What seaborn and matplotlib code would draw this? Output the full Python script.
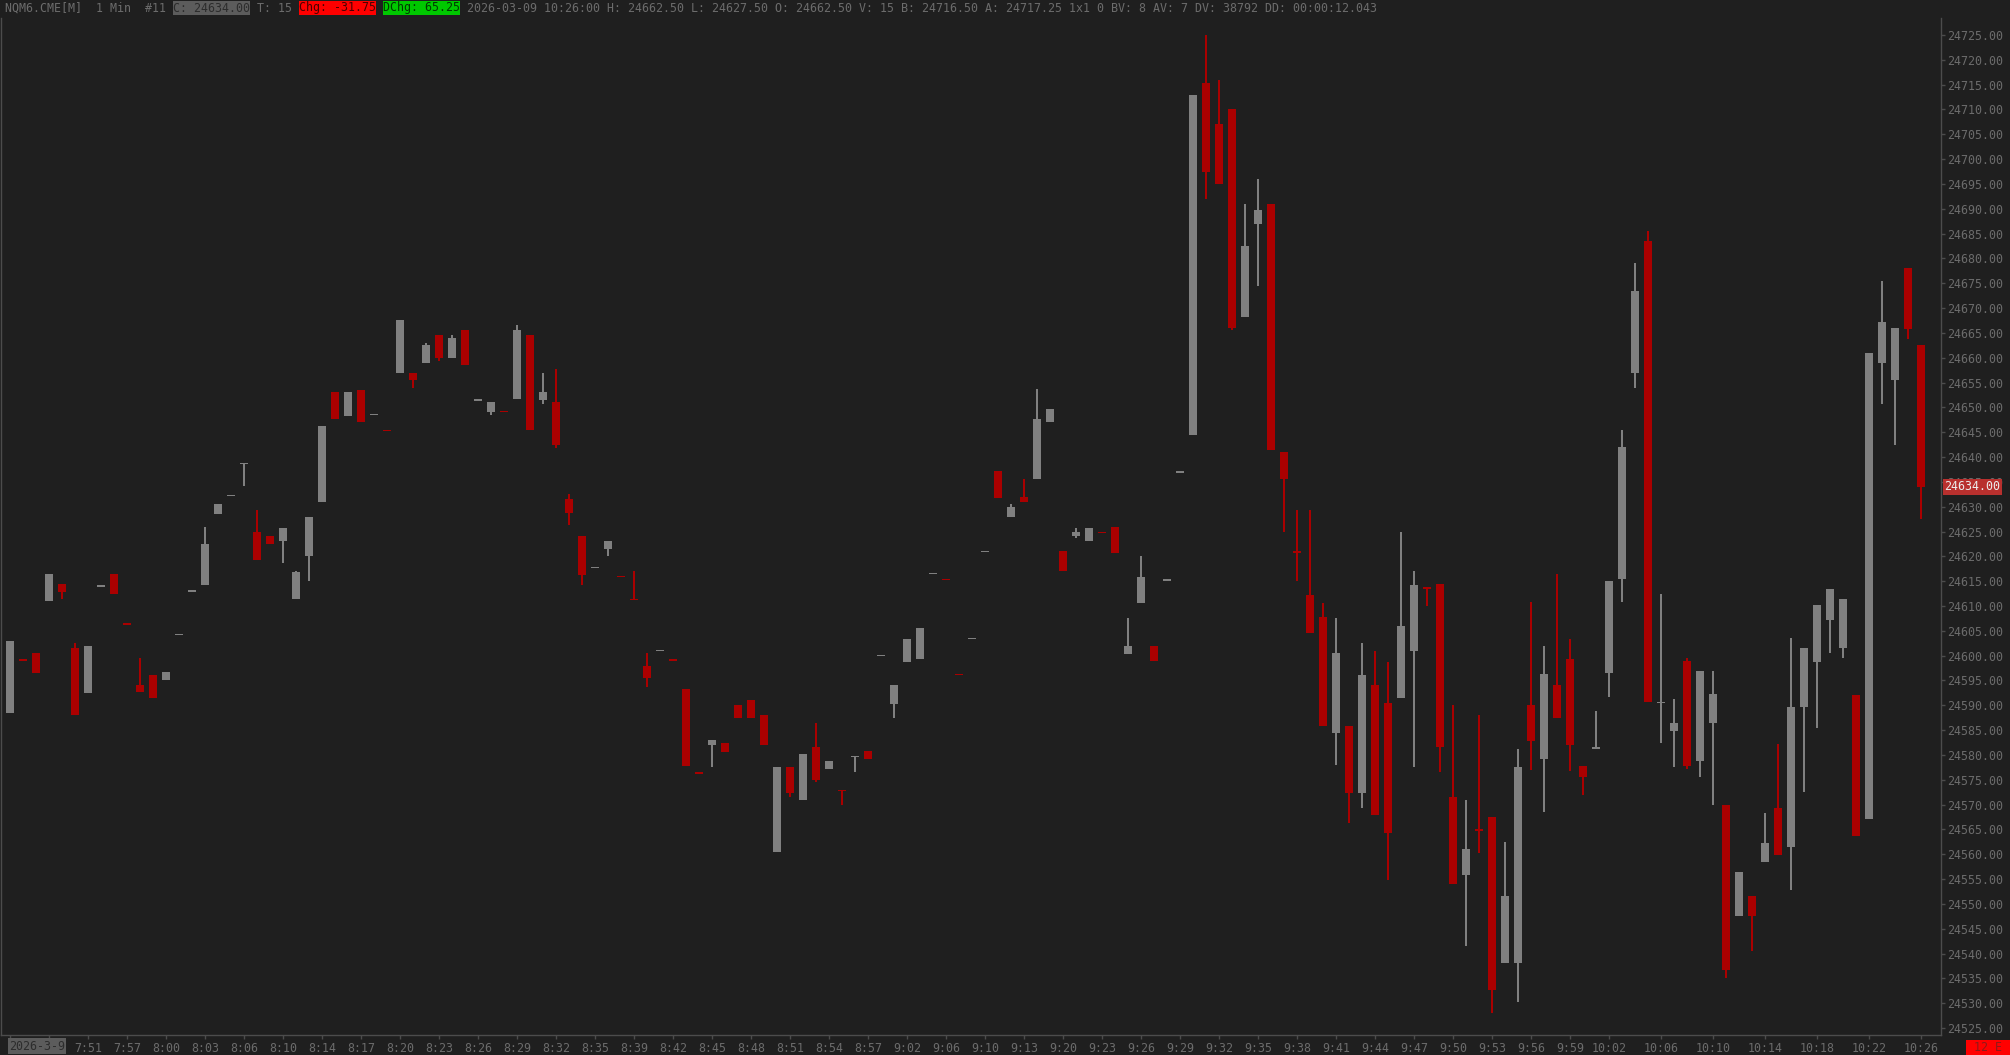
import numpy as np
import pandas as pd
import matplotlib
matplotlib.use("Agg")
import matplotlib.pyplot as plt
import matplotlib.transforms as mtransforms
from matplotlib.patches import Rectangle
import seaborn as sns

# 1 min candles NQM6.CME, 148 bars
opens = [24588.5, 24599.25, 24600.5, 24611, 24614.5, 24601.5, 24592.5, 24614, 24616.5, 24606.5,
         24594, 24596, 24595, 24604.25, 24613, 24614.25, 24628.5, 24632.25, 24638.75, 24625,
         24624, 24623, 24611.5, 24620, 24631, 24653, 24648.25, 24653.5, 24648.5, 24645.5,
         24657, 24657, 24659, 24664.5, 24660, 24665.5, 24651.25, 24649, 24649.25, 24651.75,
         24664.5, 24651.5, 24651, 24631.5, 24624, 24617.75, 24621.5, 24616, 24611.5, 24598,
         24601, 24599.25, 24593.25, 24576.5, 24582, 24582.5, 24590, 24591, 24588, 24560.5,
         24577.5, 24571, 24581.5, 24577.25, 24573, 24579.5, 24580.75, 24600, 24590.25, 24598.75,
         24599.25, 24616.5, 24615.5, 24596.25, 24603.5, 24621, 24637.25, 24628, 24632, 24635.5,
         24647, 24621, 24624, 24623, 24625, 24626, 24600.25, 24610.5, 24602, 24615.25,
         24637, 24644.5, 24715.25, 24707, 24710, 24668.25, 24687, 24691, 24641, 24621,
         24612.25, 24607.75, 24584.5, 24585.75, 24572.25, 24594, 24590.5, 24591.5, 24601, 24613.75,
         24614.5, 24571.5, 24555.75, 24565, 24567.5, 24538, 24538, 24590, 24579.25, 24594,
         24599.25, 24577.75, 24581.25, 24596.5, 24615.5, 24657, 24683.5, 24590.5, 24584.75, 24599,
         24578.75, 24586.5, 24570, 24547.5, 24551.5, 24558.5, 24569.25, 24561.5, 24589.75, 24598.75,
         24607.25, 24601.5, 24592, 24567, 24659, 24655.5, 24678, 24662.5]
highs = [24603, 24599.25, 24600.5, 24616.5, 24614.5, 24602.5, 24602, 24614, 24616.5, 24606.5,
         24599.5, 24596, 24596.75, 24604.25, 24613, 24626, 24630.5, 24632.25, 24638.75, 24629.25,
         24624, 24625.75, 24617, 24628, 24646.25, 24653, 24653, 24653.5, 24648.5, 24645.5,
         24667.5, 24657, 24663, 24664.5, 24664.5, 24665.5, 24651.75, 24651, 24649.25, 24666.5,
         24664.5, 24657, 24657.75, 24632.5, 24624, 24617.75, 24623, 24616, 24617, 24600.5,
         24601, 24599.25, 24593.25, 24576.5, 24583, 24582.5, 24590, 24591, 24588, 24577.5,
         24577.5, 24580.25, 24586.5, 24578.75, 24573, 24579.75, 24580.75, 24600, 24594, 24603.25,
         24605.5, 24616.5, 24615.5, 24596.25, 24603.5, 24621, 24637.25, 24630.5, 24635.5, 24653.75,
         24649.75, 24621, 24625.75, 24625.75, 24625, 24626, 24607.5, 24620, 24602, 24615.25,
         24637, 24713, 24725, 24716, 24710, 24691, 24696, 24691, 24641, 24629.25,
         24629.25, 24610.5, 24607.5, 24585.75, 24602.5, 24601, 24598.75, 24625, 24617, 24613.75,
         24614.5, 24590, 24571, 24588, 24567.5, 24562.5, 24581.25, 24610.75, 24602, 24616.5,
         24603.25, 24577.75, 24588.75, 24615, 24645.5, 24679, 24685.5, 24612.5, 24591.25, 24599.5,
         24597, 24597, 24570, 24556.5, 24551.5, 24568.25, 24582.25, 24603.5, 24601.5, 24610.25,
         24613.5, 24611.5, 24592, 24661, 24675.5, 24666, 24678, 24662.5]
lows = [24588.5, 24599, 24596.5, 24611, 24611.5, 24588, 24592.5, 24614, 24612.5, 24606.25,
        24592.75, 24591.5, 24595, 24604.25, 24613, 24614.25, 24628.5, 24632.25, 24634.25, 24619.25,
        24622.5, 24618.75, 24611.5, 24615, 24631, 24647.75, 24648.25, 24647, 24648.5, 24645.25,
        24657, 24654, 24659, 24659.25, 24660, 24658.5, 24651.25, 24648.5, 24649, 24651.75,
        24645.5, 24650.75, 24641.75, 24626.25, 24614.25, 24617.75, 24620, 24615.75, 24611.25, 24593.75,
        24601, 24599, 24577.75, 24576.25, 24577.5, 24580.5, 24587.5, 24587.5, 24582, 24560.5,
        24571.5, 24571, 24574.5, 24577.25, 24570, 24576.5, 24579.25, 24600, 24587.5, 24598.75,
        24599.25, 24616.5, 24615.25, 24596, 24603.5, 24621, 24631.75, 24628, 24631, 24635.5,
        24647, 24617, 24623.75, 24623, 24624.75, 24620.75, 24600.25, 24610.5, 24599, 24615.25,
        24637, 24644.5, 24692, 24695, 24665.5, 24668.25, 24674.5, 24641.5, 24625, 24615,
        24604.5, 24585.75, 24578, 24566.25, 24569.25, 24568, 24554.75, 24591.5, 24577.5, 24610,
        24576.5, 24554, 24541.5, 24560.25, 24528, 24538, 24530.25, 24577, 24568.5, 24587.5,
        24576.75, 24572, 24581.25, 24591.75, 24610.75, 24654, 24590.75, 24582.5, 24577.5, 24577.25,
        24575.5, 24570, 24535, 24547.5, 24540.5, 24558.5, 24559.75, 24552.75, 24572.5, 24585.5,
        24600.5, 24599.5, 24563.75, 24567, 24650.75, 24642.5, 24663.75, 24627.5]
closes = [24603, 24599, 24596.5, 24616.5, 24612.75, 24588, 24602, 24614, 24612.5, 24606.25,
          24592.75, 24591.5, 24596.75, 24604.25, 24613, 24622.5, 24630.5, 24632.25, 24638.75, 24619.25,
          24622.5, 24625.75, 24616.75, 24628, 24646.25, 24647.75, 24653, 24647, 24648.5, 24645.25,
          24667.5, 24655.5, 24662.5, 24660, 24664, 24658.5, 24651.75, 24651, 24649, 24665.5,
          24645.5, 24653, 24642.5, 24628.75, 24616.25, 24617.75, 24623, 24615.75, 24611.25, 24595.5,
          24601, 24599, 24577.75, 24576.25, 24583, 24580.5, 24587.5, 24587.5, 24582, 24577.5,
          24572.25, 24580.25, 24575, 24578.75, 24572.75, 24579.75, 24579.25, 24600, 24594, 24603.25,
          24605.5, 24616.5, 24615.25, 24596, 24603.5, 24621, 24631.75, 24630, 24631, 24647.75,
          24649.75, 24617, 24625, 24625.75, 24624.75, 24620.75, 24602, 24615.75, 24599, 24615.25,
          24637, 24713, 24697.5, 24695, 24666, 24682.5, 24689.75, 24641.5, 24635.5, 24620.75,
          24604.5, 24585.75, 24600.5, 24572.25, 24596, 24568, 24564.25, 24606, 24614.25, 24613.5,
          24581.5, 24554, 24561, 24564.75, 24532.75, 24551.5, 24577.5, 24582.75, 24596.25, 24587.5,
          24582, 24575.5, 24581.5, 24615, 24642, 24673.5, 24590.75, 24590.75, 24586.5, 24577.75,
          24597, 24592.25, 24536.75, 24556.5, 24547.5, 24562.25, 24559.75, 24589.75, 24601.5, 24610.25,
          24613.5, 24611.5, 24563.75, 24661, 24667.25, 24666, 24665.75, 24634]

# time axis labels (bar index -> label)
tick_bars = list(range(0, 124, 3)) + [127, 131, 135, 139, 143, 147]
tick_labels = ["", "", "7:51", "7:57", "8:00", "8:03", "8:06", "8:10", "8:14", "8:17", "8:20",
               "8:23", "8:26", "8:29", "8:32", "8:35", "8:39", "8:42", "8:45", "8:48", "8:51",
               "8:54", "8:57", "9:02", "9:06", "9:10", "9:13", "9:20", "9:23", "9:26", "9:29",
               "9:32", "9:35", "9:38", "9:41", "9:44", "9:47", "9:50", "9:53", "9:56", "9:59",
               "10:02", "10:06", "10:10", "10:14", "10:18", "10:22", "10:26"]
date_label = "2026-3-9"

df = pd.DataFrame({"open": opens, "high": highs, "low": lows, "close": closes})
df["bar"] = np.arange(len(df))
df["up"] = df["close"] >= df["open"]

BG = "#1f1f1f"
UP = "#808080"
DOWN = "#aa0000"
TXT = "#6c6c6c"
AXC = "#4c4c4c"

sns.set_theme(style="dark", rc={"axes.facecolor": BG, "figure.facecolor": BG})
plt.rcParams["font.family"] = ["DejaVu Sans Mono", "DejaVu Sans"]
FS = 8.4

W, H = 2010, 1055
fig = plt.figure(figsize=(W / 100, H / 100), dpi=100)
ax = fig.add_axes([0.5 / W, 20 / H, (1941 - 0.5) / W, (H - 18 - 20) / H])
ax.set_facecolor(BG)

# candles
colors = np.where(df["up"], UP, DOWN)
body_lo = np.minimum(df["open"], df["close"])
body_h = (df["close"] - df["open"]).abs()
min_h = 0.25
body_bottom = np.where(body_h < min_h, body_lo + body_h / 2 - min_h / 2, body_lo)
body_h = np.maximum(body_h, min_h)

ax.bar(df["bar"], df["high"] - df["low"], bottom=df["low"], width=2 / 13,
       color=colors, linewidth=0, zorder=2)
ax.bar(df["bar"], body_h, bottom=body_bottom, width=8 / 13,
       color=colors, linewidth=0, zorder=3)

ax.set_xlim(-10 / 13, 1931 / 13)
ax.set_ylim(24725 - 1000 / 4.965, 24725 + 17 / 4.965)
ax.grid(False)

# price scale on the right
ax.yaxis.tick_right()
yt = np.arange(24525, 24726, 5)
ax.set_yticks(yt)
ax.set_yticklabels([f"{v:.2f}" for v in yt])
ax.tick_params(axis="y", which="both", right=True, left=False, colors=AXC,
               labelcolor=TXT, labelsize=FS, length=3, width=1, pad=1.5, direction="out")

ax.set_xticks(tick_bars)
ax.set_xticklabels(tick_labels)
ax.tick_params(axis="x", which="both", bottom=True, colors=AXC, labelcolor=TXT,
               labelsize=FS, length=3, width=1, pad=2, direction="out")

for side in ["left", "bottom", "right"]:
    ax.spines[side].set_color(AXC)
    ax.spines[side].set_linewidth(1)
ax.spines["top"].set_visible(False)

# last price tag
trans = mtransforms.blended_transform_factory(ax.transAxes, ax.transData)
ax.text(1.0018, closes[-1], f"{closes[-1]:.2f}", transform=trans, ha="left", va="center",
        fontsize=FS, color="#ececec", zorder=10, clip_on=False,
        bbox=dict(boxstyle="square,pad=0.12", fc="#b8302e", ec="none"))

# date tag bottom left
fig.text(9 / W, 1 - 1046 / H, date_label, ha="left", va="center", fontsize=FS,
         color="#2c2c2c", bbox=dict(boxstyle="square,pad=0.1", fc="#5c5c5c", ec="none"))

# timer box bottom right
fig.patches.append(Rectangle((1966 / W, 0), 44 / W, 15 / H, transform=fig.transFigure,
                             fc="#ff0000", ec="none"))
fig.text(1988 / W, 7.5 / H, "12 E", ha="center", va="center", fontsize=FS, color="#8c1a1a")

# header line
CW = 7.0
segments = [
    ("NQM6.CME[M]  1 Min  #11 ", TXT, None),
    ("C: 24634.00", "#2c2c2c", "#5c5c5c"),
    (" T: 15 ", TXT, None),
    ("Chg: -31.75", "#4a0000", "#ff0000"),
    (" ", TXT, None),
    ("DChg: 65.25", "#003a00", "#00c800"),
    (" 2026-03-09 10:26:00 H: 24662.50 L: 24627.50 O: 24662.50 V: 15 B: 24716.50 "
     "A: 24717.25 1x1 0 BV: 8 AV: 7 DV: 38792 DD: 00:00:12.043", TXT, None),
]
col = 0
for s, fg, bg in segments:
    x0 = 4.5 + col * CW
    if bg is not None:
        fig.patches.append(Rectangle((x0 / W, 1 - 15 / H), len(s) * CW / W, 14 / H,
                                     transform=fig.transFigure, fc=bg, ec="none"))
    fig.text(x0 / W, 1 - 8 / H, s, ha="left", va="center", fontsize=FS, color=fg)
    col += len(s)

fig.savefig("out.png", dpi=100, facecolor=BG)
